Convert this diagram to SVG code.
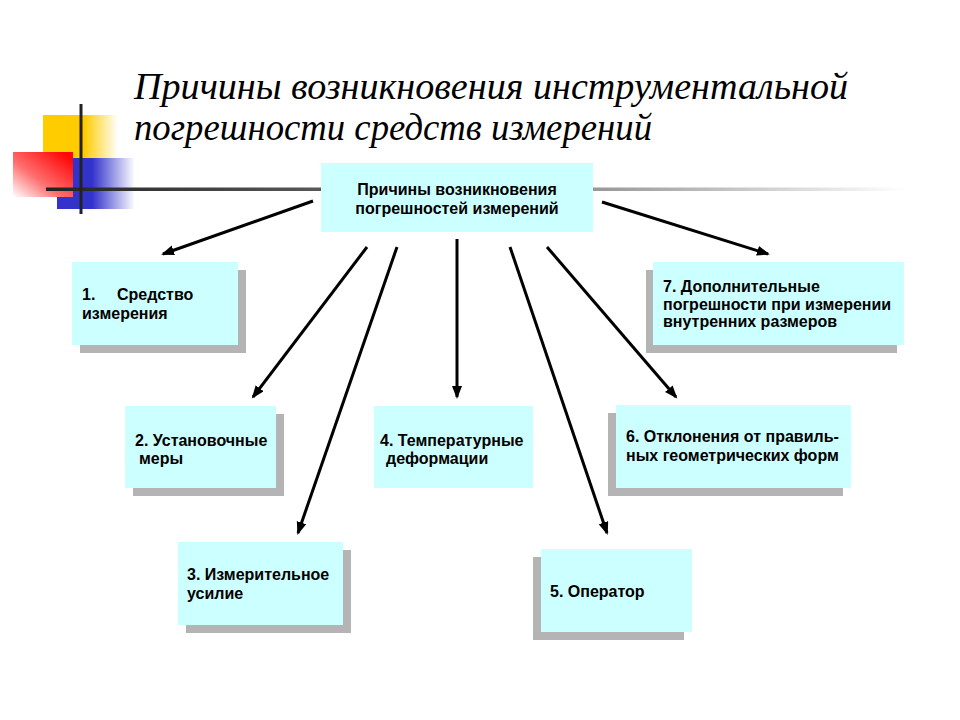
<svg xmlns="http://www.w3.org/2000/svg" width="960" height="720" viewBox="0 0 960 720">
  <defs>
    <style>
      .box { fill: #CCFFFF; }
      .shadow { fill: #B4B4B4; }
      .lbl { font-family: "Liberation Sans", Arial, sans-serif; font-weight: bold; font-size: 16px; fill: #000; }
      .title { font-family: "Liberation Serif", "Times New Roman", serif; font-style: italic; font-size: 38px; fill: #000; }
      .arrow { stroke: #000; stroke-width: 3; fill: none; marker-end: url(#ah); }
    </style>
    <marker id="ah" markerUnits="userSpaceOnUse" markerWidth="14" markerHeight="12" refX="11" refY="5" orient="auto" viewBox="0 0 14 12">
      <path d="M0,0 L13,5 L0,10 z" fill="#000"/>
    </marker>
    <linearGradient id="gYellow" x1="0" y1="0" x2="1" y2="0">
      <stop offset="0" stop-color="#FFCC00"/>
      <stop offset="0.55" stop-color="#FFCC00"/>
      <stop offset="1" stop-color="#FFFFFF"/>
    </linearGradient>
    <linearGradient id="gBlue" x1="0" y1="0" x2="1" y2="0">
      <stop offset="0" stop-color="#3333CC"/>
      <stop offset="0.45" stop-color="#3333CC"/>
      <stop offset="1" stop-color="#FFFFFF"/>
    </linearGradient>
    <linearGradient id="gRed" x1="1" y1="0" x2="0" y2="1">
      <stop offset="0" stop-color="#FF0000"/>
      <stop offset="0.1" stop-color="#FF0808"/>
      <stop offset="0.6" stop-color="#FF7070"/>
      <stop offset="1" stop-color="#FFFFFF"/>
    </linearGradient>
    <linearGradient id="gLine" x1="0" y1="0" x2="1" y2="0">
      <stop offset="0" stop-color="#222222"/>
      <stop offset="0.3" stop-color="#555555"/>
      <stop offset="0.65" stop-color="#9A9A9A"/>
      <stop offset="1" stop-color="#FFFFFF"/>
    </linearGradient>
  </defs>

  <rect width="960" height="720" fill="#FFFFFF"/>

  <g id="decoration">
    <rect x="43" y="115" width="75" height="75" fill="url(#gYellow)"/>
    <rect x="57" y="158" width="78" height="51" fill="url(#gBlue)"/>
    <rect x="13" y="152" width="60" height="45" fill="url(#gRed)"/>
    <rect x="46" y="187.5" width="860" height="3.5" fill="url(#gLine)"/>
    <rect x="79.5" y="104" width="3" height="110" fill="#222222"/>
  </g>

  <g id="title">
    <text class="title" x="134" y="99" textLength="714" lengthAdjust="spacingAndGlyphs">Причины возникновения инструментальной</text>
    <text class="title" x="134" y="140" textLength="518" lengthAdjust="spacingAndGlyphs">погрешности средств измерений</text>
  </g>

  <g id="connectors">
    <line class="arrow" x1="313" y1="201" x2="163" y2="254"/>
    <line class="arrow" x1="367" y1="247" x2="253" y2="397"/>
    <line class="arrow" x1="397" y1="247" x2="298" y2="533"/>
    <line class="arrow" x1="457" y1="239" x2="457" y2="397"/>
    <line class="arrow" x1="510" y1="247" x2="607" y2="533"/>
    <line class="arrow" x1="547" y1="247" x2="676" y2="397"/>
    <line class="arrow" x1="602" y1="202" x2="768" y2="254"/>
  </g>

  <g id="node-center">
    <rect class="box" x="321" y="163" width="272" height="69"/>
    <text class="lbl" x="457" y="195" text-anchor="middle">Причины возникновения</text>
    <text class="lbl" x="457" y="214" text-anchor="middle">погрешностей измерений</text>
  </g>

  <g id="node-1">
    <rect class="shadow" x="80" y="270" width="166" height="83"/>
    <rect class="box" x="72" y="262" width="166" height="83"/>
    <text class="lbl" x="82" y="300">1.</text>
    <text class="lbl" x="117" y="300">Средство</text>
    <text class="lbl" x="82" y="319">измерения</text>
  </g>

  <g id="node-2">
    <rect class="shadow" x="133" y="414" width="151" height="82"/>
    <rect class="box" x="125" y="406" width="151" height="82"/>
    <text class="lbl" x="135" y="446">2. Установочные</text>
    <text class="lbl" x="139" y="464">меры</text>
  </g>

  <g id="node-3">
    <rect class="shadow" x="186" y="550" width="165" height="83"/>
    <rect class="box" x="178" y="542" width="165" height="83"/>
    <text class="lbl" x="187" y="580">3. Измерительное</text>
    <text class="lbl" x="187" y="599">усилие</text>
  </g>

  <g id="node-4">
    <rect class="box" x="374" y="406" width="159" height="82"/>
    <text class="lbl" x="380" y="446">4. Температурные</text>
    <text class="lbl" x="386" y="464">деформации</text>
  </g>

  <g id="node-5">
    <rect class="shadow" x="533" y="557" width="151" height="83"/>
    <rect class="box" x="541" y="549" width="151" height="83"/>
    <text class="lbl" x="550" y="597">5. Оператор</text>
  </g>

  <g id="node-6">
    <rect class="shadow" x="608" y="413" width="235" height="83"/>
    <rect class="box" x="616" y="405" width="235" height="83"/>
    <text class="lbl" x="626" y="442">6. Отклонения от правиль-</text>
    <text class="lbl" x="626" y="461">ных геометрических форм</text>
  </g>

  <g id="node-7">
    <rect class="shadow" x="646" y="270" width="251" height="83"/>
    <rect class="box" x="653" y="262" width="251" height="83"/>
    <text class="lbl" x="663" y="292">7. Дополнительные</text>
    <text class="lbl" x="663" y="309.5">погрешности при измерении</text>
    <text class="lbl" x="663" y="327">внутренних размеров</text>
  </g>
</svg>
